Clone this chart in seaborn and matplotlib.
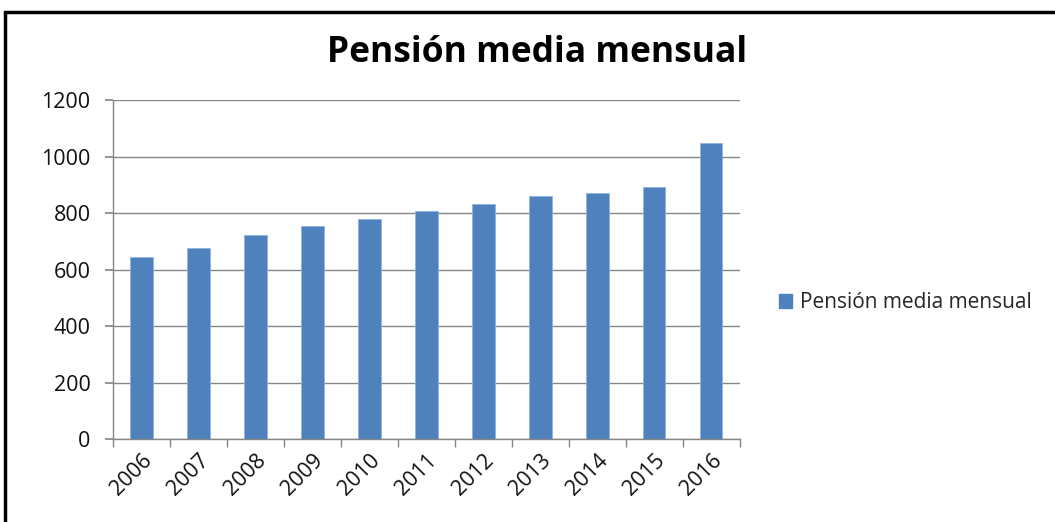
import matplotlib
matplotlib.use("Agg")
import matplotlib.pyplot as plt
import seaborn as sns
import pandas as pd
from matplotlib.patches import Rectangle, Patch

years = ["2006", "2007", "2008", "2009", "2010", "2011", "2012", "2013", "2014", "2015", "2016"]
pension = [643, 675, 721, 756, 781, 806, 834, 859, 873, 891, 1047]
series_name = "Pensión media mensual"

df = pd.DataFrame({"year": years, "value": pension})

sns.set_theme(style="white")
plt.rcParams['font.family'] = ['Open Sans', 'DejaVu Sans']

fig = plt.figure(figsize=(10.55, 5.22), dpi=100)
ax = fig.add_axes([0.107, 0.159, 0.594, 0.649])

color = "#4F81BD"
sns.barplot(data=df, x="year", y="value", color=color, width=0.4, ax=ax,
            saturation=1, edgecolor="#8EB4E3", linewidth=0.6)

ax.set_ylim(0, 1200)
ax.set_yticks(range(0, 1201, 200))
ax.set_xlim(-0.5, len(years) - 0.5)
ax.grid(axis="y", color="#868686", linewidth=1)
ax.set_axisbelow(True)
ax.set_xlabel("")
ax.set_ylabel("")
for s in ["top", "right"]:
    ax.spines[s].set_visible(False)
for s in ["left", "bottom"]:
    ax.spines[s].set_color("#868686")
    ax.spines[s].set_linewidth(1)

ax.tick_params(axis="y", which="major", length=6, color="#868686", direction="out",
               left=True, labelsize=15.5, labelcolor="#111111", pad=10)
ax.tick_params(axis="x", which="major", length=0, labelsize=15.5, labelcolor="#111111", pad=8)
ax.set_xticks(range(len(years)))
ax.set_xticklabels(years, rotation=45, ha="right", rotation_mode="anchor")
# category boundary tick marks
ax.set_xticks([i - 0.5 for i in range(len(years) + 1)], minor=True)
ax.tick_params(axis="x", which="minor", length=6, color="#868686", direction="out", bottom=True)

fig.text(0.509, 0.898, series_name, ha="center", va="center", fontsize=25.5,
         fontweight="bold", color="black")

handle = Patch(facecolor=color, edgecolor=color, label=series_name)
fig.legend(handles=[handle], loc="center left", bbox_to_anchor=(0.721, 0.42),
           frameon=False, fontsize=15, handlelength=0.6, handleheight=0.6,
           handletextpad=0.4)

# outer chart frame (top and left visible)
fig.patches.append(Rectangle((0.005, -0.05), 1.2, 1.027, transform=fig.transFigure,
                             fill=False, edgecolor="black", linewidth=2.5))

fig.savefig("out.png", dpi=100)
